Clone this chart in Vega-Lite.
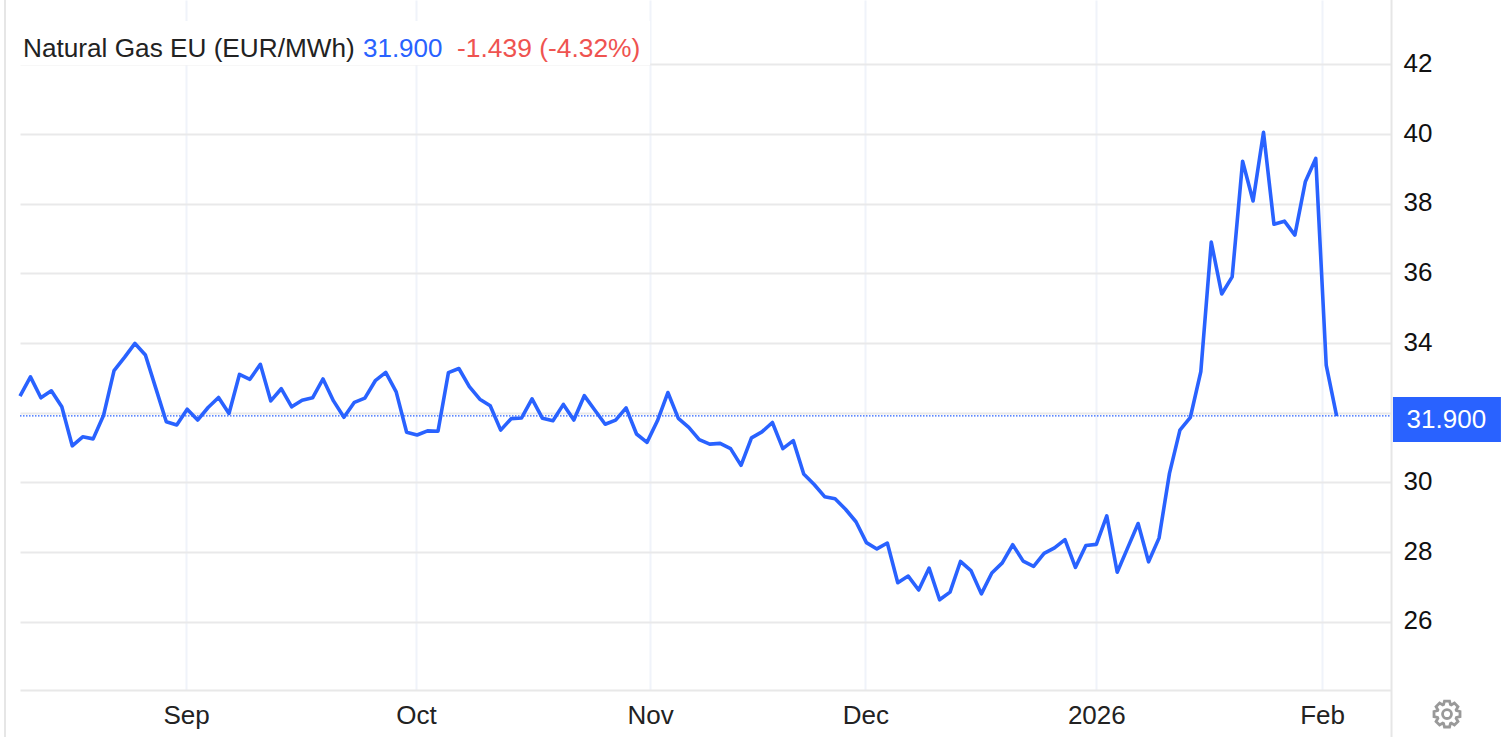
{"$schema":"https://vega.github.io/schema/vega-lite/v6.json","width":1371,"height":690,"autosize":"none","padding":{"left":20,"top":0,"right":110,"bottom":47},"background":"white","config":{"view":{"stroke":null},"font":"Liberation Sans"},
"datasets":{"prices":[{"session":0,"price":32.48},{"session":1,"price":33.03},{"session":2,"price":32.43},{"session":3,"price":32.63},{"session":4,"price":32.17},{"session":5,"price":31.05},{"session":6,"price":31.31},{"session":7,"price":31.25},{"session":8,"price":31.93},{"session":9,"price":33.21},{"session":10,"price":33.59},{"session":11,"price":33.99},{"session":12,"price":33.66},{"session":13,"price":32.7},{"session":14,"price":31.74},{"session":15,"price":31.65},{"session":16,"price":32.1},{"session":17,"price":31.79},{"session":18,"price":32.15},{"session":19,"price":32.44},{"session":20,"price":31.98},{"session":21,"price":33.1},{"session":22,"price":32.96},{"session":23,"price":33.39},{"session":24,"price":32.34},{"session":25,"price":32.69},{"session":26,"price":32.17},{"session":27,"price":32.36},{"session":28,"price":32.43},{"session":29,"price":32.97},{"session":30,"price":32.34},{"session":31,"price":31.87},{"session":32,"price":32.3},{"session":33,"price":32.42},{"session":34,"price":32.92},{"session":35,"price":33.16},{"session":36,"price":32.6},{"session":37,"price":31.44},{"session":38,"price":31.36},{"session":39,"price":31.48},{"session":40,"price":31.47},{"session":41,"price":33.15},{"session":42,"price":33.27},{"session":43,"price":32.75},{"session":44,"price":32.39},{"session":45,"price":32.2},{"session":46,"price":31.5},{"session":47,"price":31.83},{"session":48,"price":31.85},{"session":49,"price":32.4},{"session":50,"price":31.84},{"session":51,"price":31.77},{"session":52,"price":32.24},{"session":53,"price":31.79},{"session":54,"price":32.49},{"session":55,"price":32.08},{"session":56,"price":31.67},{"session":57,"price":31.79},{"session":58,"price":32.14},{"session":59,"price":31.39},{"session":60,"price":31.15},{"session":61,"price":31.77},{"session":62,"price":32.58},{"session":63,"price":31.84},{"session":64,"price":31.58},{"session":65,"price":31.23},{"session":66,"price":31.1},{"session":67,"price":31.12},{"session":68,"price":30.97},{"session":69,"price":30.49},{"session":70,"price":31.28},{"session":71,"price":31.45},{"session":72,"price":31.72},{"session":73,"price":30.97},{"session":74,"price":31.2},{"session":75,"price":30.24},{"session":76,"price":29.94},{"session":77,"price":29.59},{"session":78,"price":29.53},{"session":79,"price":29.23},{"session":80,"price":28.87},{"session":81,"price":28.27},{"session":82,"price":28.09},{"session":83,"price":28.26},{"session":84,"price":27.12},{"session":85,"price":27.31},{"session":86,"price":26.91},{"session":87,"price":27.54},{"session":88,"price":26.63},{"session":89,"price":26.85},{"session":90,"price":27.73},{"session":91,"price":27.47},{"session":92,"price":26.8},{"session":93,"price":27.4},{"session":94,"price":27.69},{"session":95,"price":28.21},{"session":96,"price":27.74},{"session":97,"price":27.59},{"session":98,"price":27.96},{"session":99,"price":28.12},{"session":100,"price":28.36},{"session":101,"price":27.56},{"session":102,"price":28.19},{"session":103,"price":28.22},{"session":104,"price":29.04},{"session":105,"price":27.42},{"session":106,"price":28.12},{"session":107,"price":28.82},{"session":108,"price":27.72},{"session":109,"price":28.4},{"session":110,"price":30.26},{"session":111,"price":31.5},{"session":112,"price":31.87},{"session":113,"price":33.18},{"session":114,"price":36.9},{"session":115,"price":35.41},{"session":116,"price":35.9},{"session":117,"price":39.22},{"session":118,"price":38.08},{"session":119,"price":40.05},{"session":120,"price":37.41},{"session":121,"price":37.5},{"session":122,"price":37.1},{"session":123,"price":38.63},{"session":124,"price":39.3},{"session":125,"price":33.37},{"session":126,"price":31.9}]},
"encoding":{"x":{"field":"session","type":"quantitative","title":null,"scale":{"domain":[0,131.2],"nice":false,"zero":false},"axis":{"orient":"bottom","values":[15.9,37.9,60.3,80.9,103,124.6],"labelExpr":"datum.value==15.9?'Sep':datum.value==37.9?'Oct':datum.value==60.3?'Nov':datum.value==80.9?'Dec':datum.value==103?'2026':'Feb'","labelFont":"Liberation Sans","labelFontSize":26,"labelColor":"#222222","labelPadding":12,"labelFlush":false,"labelOverlap":false,"ticks":false,"grid":true,"gridColor":"#f0f3fa","gridWidth":2,"domain":true,"domainColor":"#e8e8e8","domainWidth":2}},"y":{"field":"price","type":"quantitative","title":null,"scale":{"domain":[24.04,43.85],"nice":false,"zero":false},"axis":{"orient":"right","values":[26,28,30,32,34,36,38,40,42],"labelExpr":"datum.value==32?'':format(datum.value,'d')","labelFont":"Liberation Sans","labelFontSize":26,"labelColor":"#111111","labelPadding":12,"labelOffset":-1,"ticks":false,"grid":true,"gridColor":"#e9e9ea","gridWidth":2,"domain":false}}},
"layer":[
{"data":{"values":[{"session":-0.05,"sessionEnd":60.3,"price":43.25,"priceEnd":41.98}]},"mark":{"type":"rect","color":"white"},"encoding":{"x2":{"field":"sessionEnd"},"y2":{"field":"priceEnd"}}},
{"data":{"values":[{"session":-1.435,"price":43.85,"priceEnd":22.69},{"session":131.25,"price":43.85,"priceEnd":22.69}]},"mark":{"type":"rule","color":"#e6e6e6","strokeWidth":2,"clip":false},"encoding":{"y2":{"field":"priceEnd"}}},
{"data":{"values":[{"session":0,"sessionEnd":131.2,"price":31.91}]},"mark":{"type":"rule","color":"#2962ff","strokeWidth":1.4,"strokeDash":[1.5,1.5]},"encoding":{"x2":{"field":"sessionEnd"}}},
{"data":{"name":"prices"},"mark":{"type":"line","color":"#2962ff","strokeWidth":3.6,"strokeJoin":"round","clip":false}},
{"data":{"values":[{"session":131.39,"sessionEnd":141.72,"price":32.45,"priceEnd":31.16}]},"mark":{"type":"rect","color":"#2962ff"},"encoding":{"x2":{"field":"sessionEnd"},"y2":{"field":"priceEnd"}}},
{"data":{"values":[{"session":136.5,"price":31.8,"label":"31.900"}]},"mark":{"type":"text","font":"Liberation Sans","fontSize":26,"color":"white","align":"center","baseline":"middle"},"encoding":{"text":{"field":"label"}}},
{"data":{"values":[{"session":0.287,"price":42.44,"label":"Natural Gas EU (EUR/MWh)"}]},"mark":{"type":"text","font":"Liberation Sans","fontSize":26.2,"color":"#222222","align":"left","baseline":"middle"},"encoding":{"text":{"field":"label"}}},
{"data":{"values":[{"session":32.82,"price":42.44,"label":"31.900"}]},"mark":{"type":"text","font":"Liberation Sans","fontSize":26,"color":"#2962ff","align":"left","baseline":"middle"},"encoding":{"text":{"field":"label"}}},
{"data":{"values":[{"session":41.82,"price":42.44,"label":"-1.439 (-4.32%)"}]},"mark":{"type":"text","font":"Liberation Sans","fontSize":26.4,"color":"#ef5350","align":"left","baseline":"middle"},"encoding":{"text":{"field":"label"}}},
{"data":{"values":[{"session":136.56,"price":23.35}]},"mark":{"type":"point","shape":"M.982 -.191L.982 .191L.714 .26L.689 .321L.829 .559L.559 .829L.321 .689L.26 .714L.191 .982L-.191 .982L-.26 .714L-.321 .689L-.559 .829L-.829 .559L-.689 .321L-.714 .26L-.982 .191L-.982 -.191L-.714 -.26L-.689 -.321L-.829 -.559L-.559 -.829L-.321 -.689L-.26 -.714L-.191 -.982L.191 -.982L.26 -.714L.321 -.689L.559 -.829L.829 -.559L.689 -.321L.714 -.26Z","size":700,"filled":false,"stroke":"#6f6f6f","strokeWidth":2.8}},
{"data":{"values":[{"session":136.56,"price":23.35}]},"mark":{"type":"point","shape":"circle","size":80,"filled":false,"stroke":"#6f6f6f","strokeWidth":2.8}}
]}
